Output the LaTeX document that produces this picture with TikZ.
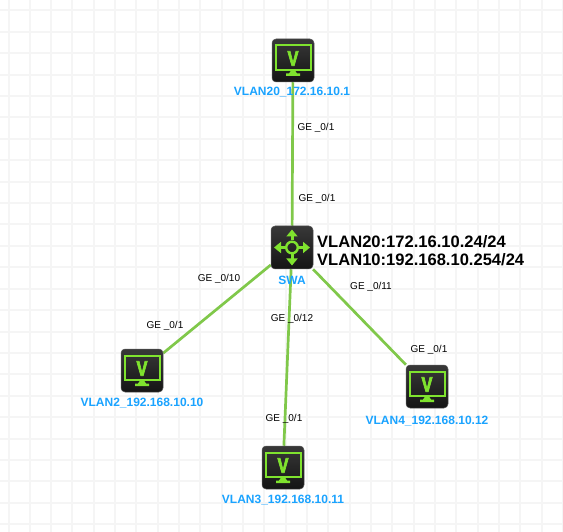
\documentclass[tikz,border=0pt]{standalone}
\usepackage{fontspec}
\setmainfont{Liberation Sans}
\newfontfamily\vfont[BoldFeatures={FakeBold=4}]{Liberation Sans}
\usetikzlibrary{backgrounds,arrows.meta}
\definecolor{gridc}{HTML}{F5F5F5}
\definecolor{linkc}{HTML}{80C84A}
\definecolor{glyphc}{HTML}{7FE32E}
\definecolor{namec}{HTML}{1AA3FF}
\tikzset{
  x=1pt,y=-1pt,
  devbox/.style={minimum width=42pt,minimum height=43pt,inner sep=0pt,rounded corners=4pt,
    top color=black!78,bottom color=black!92,draw=black!65,line width=.5pt},
  vglyph/.style={inner sep=0pt,text=glyphc,font=\fontsize{21}{21}\vfont\bfseries},
  monitor/.style={draw=glyphc,line width=2pt},
  link/.style={draw=linkc,line width=2.7pt},
  portlabel/.style={inner sep=0pt,text=black,font=\fontsize{10}{12}\selectfont},
  namelabel/.style={inner sep=0pt,text=namec,font=\fontsize{12}{14}\selectfont\bfseries},
  vlanlabel/.style={inner sep=0pt,anchor=west,text=black,font=\fontsize{16.55}{18}\selectfont\bfseries},
  gridline/.style={draw=gridc,line width=2pt},
  routearrow/.style={draw=glyphc,line width=3pt,-{Triangle[length=7pt,width=11pt]}}
}
\newcommand{\termicon}[3]{%
  \node[devbox] (#1) at (#2,#3) {};
  \node[vglyph] (#1v) at (#2,#3-2) {\scalebox{.78}[1]{V}};
  \draw[monitor] ([shift={(-17.5,-15)}]#1.center) rectangle ([shift={(17.5,9.5)}]#1.center);
  \fill[glyphc] ([shift={(-2,10)}]#1.center) -- ([shift={(2,10)}]#1.center) -- ([shift={(4,13)}]#1.center)
     -- ([shift={(7,13)}]#1.center) -- ([shift={(7,15.5)}]#1.center) -- ([shift={(-7,15.5)}]#1.center)
     -- ([shift={(-7,13)}]#1.center) -- ([shift={(-4,13)}]#1.center) -- cycle;
}
\begin{document}
\begin{tikzpicture}
\useasboundingbox (0,0) rectangle (563,532);
\termicon{top}{293}{60.5}
\termicon{left}{142}{370.5}
\termicon{bottom}{283}{467.5}
\termicon{right}{427}{386.5}
\node[devbox] (swa) at (292,247.5) {};
\draw[glyphc,line width=2.4pt] (swa.center) circle (5.8);
\draw[routearrow] ([shift={(0,-7)}]swa.center) -- ([shift={(0,-18)}]swa.center);
\draw[routearrow] ([shift={(0,7)}]swa.center) -- ([shift={(0,18)}]swa.center);
\draw[routearrow] ([shift={(-7,0)}]swa.center) -- ([shift={(-18,0)}]swa.center);
\draw[routearrow] ([shift={(7,0)}]swa.center) -- ([shift={(18,0)}]swa.center);
\begin{scope}[on background layer]
\fill[white] (0,0) rectangle (563,532);
\foreach \k in {0,...,26} {
  \draw[gridline] ({8.5+21.33*\k},0) -- ({8.5+21.33*\k},532);
  \draw[gridline] (0,{10.5+21.4*\k}) -- (563,{10.5+21.4*\k});
}
\draw[link] (swa) -- (top);
\draw[link] (swa) -- (left);
\draw[link] (swa) -- (bottom);
\draw[link] (swa) -- (right);
\end{scope}
\node[namelabel] (ntop) at (292,92.5) {VLAN20\_172.16.10.1};
\node[namelabel] (nswa) at (292,280) {SWA};
\node[namelabel] (nleft) at (142,403.5) {VLAN2\_192.168.10.10};
\node[namelabel] (nbottom) at (283,500.5) {VLAN3\_192.168.10.11};
\node[namelabel] (nright) at (427,421.5) {VLAN4\_192.168.10.12};
\node[vlanlabel] (vl20) at (317,242) {VLAN20:172.16.10.24/24};
\node[vlanlabel] (vl10) at (317,260) {VLAN10:192.168.10.254/24};
\node[portlabel] (p1) at (316,127.5) {GE \_0/1};
\node[portlabel] (p2) at (317,198.5) {GE \_0/1};
\node[portlabel] (p3) at (219,278.5) {GE \_0/10};
\node[portlabel] (p4) at (371,286.5) {GE \_0/11};
\node[portlabel] (p5) at (292,318.5) {GE \_0/12};
\node[portlabel] (p6) at (165,325.5) {GE \_0/1};
\node[portlabel] (p7) at (284,418.5) {GE \_0/1};
\node[portlabel] (p8) at (429,349.5) {GE \_0/1};
\end{tikzpicture}
\end{document}
